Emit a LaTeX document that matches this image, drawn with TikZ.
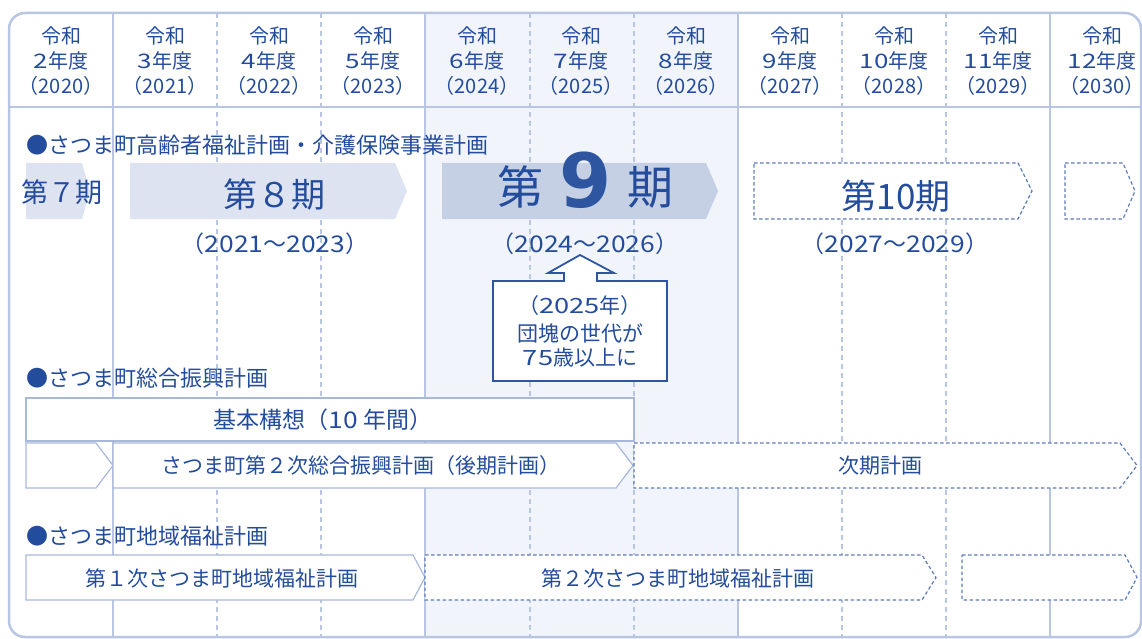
\documentclass[tikz,border=0pt]{standalone}
\usepackage{fontspec}
\setmainfont{Noto Sans CJK JP}
\newfontfamily\numfont{DejaVu Sans}
\newfontfamily\digfont[FakeStretch=1.3]{Noto Sans CJK JP}
\newfontfamily\yrdigfont[FakeStretch=1.15]{Noto Sans CJK JP}
\newcommand{\dg}[1]{{\digfont #1}}
\newcommand{\ydg}[1]{{\yrdigfont #1}}
\definecolor{tblue}{RGB}{36,76,156}
\definecolor{lineC}{RGB}{184,198,227}
\definecolor{shadeC}{RGB}{241,244,250}
\definecolor{fillA}{RGB}{221,227,240}
\definecolor{fillB}{RGB}{198,208,229}
\definecolor{dashC}{RGB}{95,125,185}
\definecolor{boxC}{RGB}{168,184,219}
\definecolor{callC}{RGB}{45,85,160}
\begin{document}
\begin{tikzpicture}[x=1pt,y=-1pt,
  txt/.style={text=tblue,inner sep=0pt},
  hdr/.style={txt,align=center,font=\fontsize{20}{25}\selectfont},
  sec/.style={txt,anchor=west,font=\fontsize{22}{25}\selectfont},
  yr/.style={txt,font=\fontsize{23}{25}\selectfont},
  lbl/.style={txt,font=\fontsize{21}{26}\selectfont},
  colsolid/.style={draw=lineC,line width=1.5pt},
  coldash/.style={draw=lineC,line width=1.5pt,dash pattern=on 5pt off 4pt},
  filledA/.style={fill=fillA},
  filledB/.style={fill=fillB},
  solidbox/.style={fill=white,draw=boxC,line width=1.2pt},
  dashbox/.style={fill=white,draw=dashC,line width=1.2pt,dash pattern=on 3.5pt off 2.5pt},
]
\useasboundingbox (0,0) rectangle (1142,639);
% shaded period
\fill[shadeC] (425,13) rectangle (738,637);
% column lines
\foreach \x in {113,425,738,1050} \draw[colsolid] (\x,13) -- (\x,637);
\foreach \x in {217,321,530,634,842,946} \draw[coldash] (\x,13) -- (\x,637);
\draw[draw=lineC,line width=2pt] (9,107) -- (1141,107);
\draw[draw=lineC,line width=2.5pt,rounded corners=16pt] (9,13) rectangle (1141,637);
% header
\node[hdr] (h0) at (61,61) {令和\\\dg{2}年度\\（2020）};
\node[hdr] (h1) at (165,61) {令和\\\dg{3}年度\\（2021）};
\node[hdr] (h2) at (269,61) {令和\\\dg{4}年度\\（2022）};
\node[hdr] (h3) at (373,61) {令和\\\dg{5}年度\\（2023）};
\node[hdr] (h4) at (477,61) {令和\\\dg{6}年度\\（2024）};
\node[hdr] (h5) at (581,61) {令和\\\dg{7}年度\\（2025）};
\node[hdr] (h6) at (686,61) {令和\\\dg{8}年度\\（2026）};
\node[hdr] (h7) at (790,61) {令和\\\dg{9}年度\\（2027）};
\node[hdr] (h8) at (894,61) {令和\\\dg{10}年度\\（2028）};
\node[hdr] (h9) at (998,61) {令和\\\dg{11}年度\\（2029）};
\node[hdr] (h10) at (1102,61) {令和\\\dg{12}年度\\（2030）};
% section 1
\node[sec] (s1) at (26,145) {●さつま町高齢者福祉計画・介護保険事業計画};
\path[filledA] (26,163) -- (82,163) -- (90,191) -- (82,219) -- (26,219) -- cycle;
\node[txt,font=\fontsize{27}{30}\selectfont] (p7) at (62,192) {第７期};
\path[filledA] (130,163) -- (395,163) -- (407,191) -- (395,219) -- (130,219) -- cycle;
\node[txt,font=\fontsize{34}{36}\selectfont] (p8) at (274,195) {第８期};
\node[yr] (y8) at (275,244) {（\ydg{2021}～\ydg{2023}）};
\path[filledB] (442,163) -- (706,163) -- (718,191) -- (706,219) -- (442,219) -- cycle;
\node[txt,font=\fontsize{46}{48}\selectfont] (p9a) at (520,187) {第};
\node[txt,font=\numfont\bfseries\fontsize{75}{78}\selectfont,text=callC] (p9) at (586,180) {9};
\node[txt,font=\fontsize{46}{48}\selectfont] (p9b) at (650,187) {期};
\node[yr] (y9) at (585,244) {（\ydg{2024}～\ydg{2026}）};
\path[dashbox] (754,163) -- (1018,163) -- (1032,191) -- (1018,219) -- (754,219) -- cycle;
\node[txt,font=\fontsize{35}{38}\selectfont] (p10) at (896,196) {第10期};
\node[yr] (y10) at (895,244) {（\ydg{2027}～\ydg{2029}）};
\path[dashbox] (1065,163) -- (1123,163) -- (1135,191) -- (1123,219) -- (1065,219) -- cycle;
% callout
\path[fill=white,draw=callC,line width=1.8pt,line join=miter]
  (493,281) -- (564,281) -- (564,273) -- (548,273) -- (580,255) -- (614,273)
  -- (597,273) -- (597,281) -- (667,281) -- (667,381) -- (493,381) -- cycle;
\node[lbl] (c1) at (580,306) {（\dg{2025}年）};
\node[lbl] (c2) at (580,333) {団塊の世代が};
\node[lbl] (c3) at (580,358) {\dg{75}歳以上に};
% section 2
\node[sec] (s2) at (26,378) {●さつま町総合振興計画};
\path[solidbox] (26,398) rectangle (634,441);
\node[txt,font=\fontsize{23}{26}\selectfont] (k1) at (323,420) {基本構想（\ydg{10} 年間）};
\path[solidbox] (26,443) -- (96,443) -- (113,465.5) -- (96,488) -- (26,488) -- cycle;
\path[solidbox] (113,443) -- (616,443) -- (633,465.5) -- (616,488) -- (113,488) -- cycle;
\node[lbl] (k2) at (361,466) {さつま町第２次総合振興計画（後期計画）};
\path[dashbox] (634,443) -- (1120,443) -- (1137,465.5) -- (1120,488) -- (634,488) -- cycle;
\node[lbl] (k3) at (880,466) {次期計画};
% section 3
\node[sec] (s3) at (26,536) {●さつま町地域福祉計画};
\path[solidbox] (26,555) -- (413,555) -- (425,577.5) -- (413,600) -- (26,600) -- cycle;
\node[lbl] (w1) at (222,578) {第１次さつま町地域福祉計画};
\path[dashbox] (425,555) -- (922,555) -- (936,577.5) -- (922,600) -- (425,600) -- cycle;
\node[lbl] (w2) at (678,578) {第２次さつま町地域福祉計画};
\path[dashbox] (962,555) -- (1125,555) -- (1137,577.5) -- (1125,600) -- (962,600) -- cycle;
\end{tikzpicture}
\end{document}
